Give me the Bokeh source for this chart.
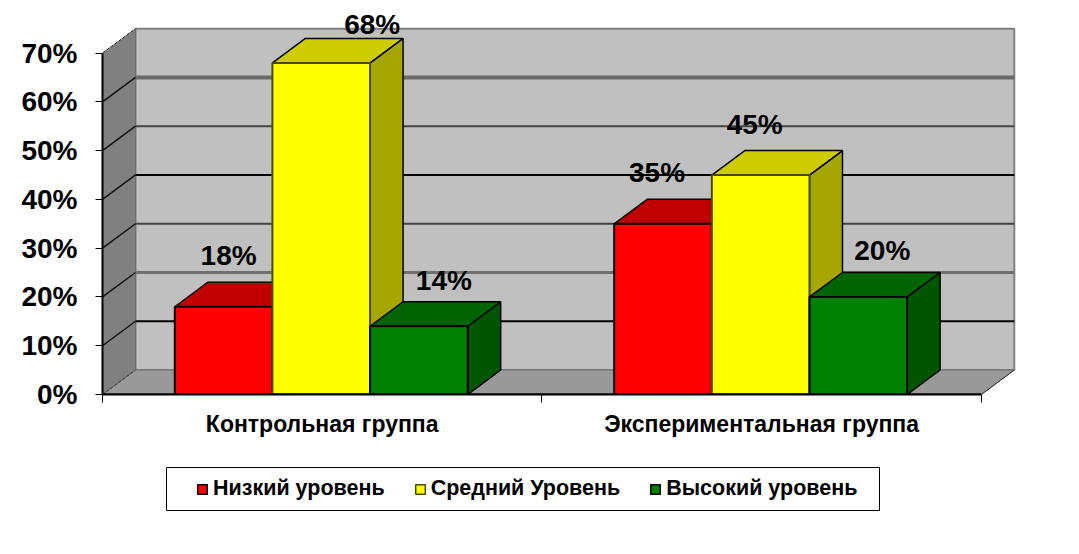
from bokeh.embed import file_html
from bokeh.resources import INLINE
from bokeh.plotting import figure
from bokeh.layouts import column
from bokeh.models import Range1d, FixedTicker, Legend, LegendItem, ColumnDataSource
from bokeh.core.properties import value

groups = ["Контрольная группа", "Экспериментальная группа"]
series = ["Низкий уровень", "Средний Уровень", "Высокий уровень"]
low = [18, 35]
mid = [68, 45]
high = [14, 20]
y_ticks = [0, 10, 20, 30, 40, 50, 60, 70]
labels_low = ["18%", "35%"]
labels_mid = ["68%", "45%"]
labels_high = ["14%", "20%"]

front = ["#FF0000", "#FFFF00", "#008000"]
top = ["#C00000", "#CCCC00", "#006400"]
side = ["#A00000", "#A6A600", "#005500"]
edge = ["#000000", "#4A4A00", "#000000"]

# per-label nudges in px, as placed by hand in the reference
nudge_x = [[5, -6], [51, -6], [25, 24]]
nudge_y = [[-51, -51], [-38, -51], [-46, -46]]

DX = 33 / 439.4
DY = 245 / 48.8
BAR = 2 / 9
GAP = 0.1645

p = figure(width=1071, height=462, output_backend="svg", toolbar_location=None,
           x_range=Range1d(0, 928 / 439.4), y_range=Range1d(0, 386.3 / 4.88),
           min_border_left=102, min_border_right=41, min_border_top=8, min_border_bottom=68,
           outline_line_color=None, background_fill_color="white", border_fill_color="white")
p.grid.visible = False

# axes
ax = p.yaxis[0]
ax.ticker = FixedTicker(ticks=y_ticks)
ax.major_label_overrides = {v: f"{v}%" for v in y_ticks}
ax.major_label_text_font = "Liberation Sans"
ax.major_label_text_font_style = "bold"
ax.major_label_text_font_size = "28px"
ax.major_label_text_color = "black"
ax.major_tick_in = 0
ax.major_tick_out = 7
ax.major_tick_line_width = 1
ax.minor_tick_line_color = None
ax.axis_line_width = 2
ax.axis_line_color = "black"
ax.bounds = (0, 70)
ax.major_label_standoff = 18

bx = p.xaxis[0]
bx.ticker = FixedTicker(ticks=[0.5, 1.5], minor_ticks=[0, 1, 2])
bx.major_label_overrides = {0.5: groups[0], 1.5: groups[1]}
bx.major_label_text_font = "Liberation Sans"
bx.major_label_text_font_style = "bold"
bx.major_label_text_font_size = "23px"
bx.major_label_text_color = "black"
bx.major_tick_line_color = None
bx.major_tick_out = 0
bx.major_tick_in = 0
bx.minor_tick_in = 0
bx.minor_tick_out = 8
bx.minor_tick_line_color = "black"
bx.axis_line_width = 2
bx.axis_line_color = "black"
bx.bounds = (0, 2)
bx.major_label_standoff = 8

# walls
ymax = y_ticks[-1]
p.patch([DX, 2 + DX, 2 + DX, DX], [DY, DY, ymax + DY, ymax + DY],
        fill_color="#C0C0C0", line_color="#808080", line_width=2)
p.patch([0, DX, DX, 0], [0, DY, ymax + DY, ymax],
        fill_color="#808080", line_color="#6E6E6E", line_width=1)
p.patch([0, 2, 2 + DX, DX], [0, 0, DY, DY],
        fill_color="#999999", line_color="#6E6E6E", line_width=1)

# grid lines on the back wall and left wall
grid_color = {10: "#000000", 20: "#707070", 30: "#444444", 40: "#000000", 50: "#444444", 60: "#6A6A6A"}
grid_width = {10: 2, 20: 3, 30: 2, 40: 2, 50: 2, 60: 4}
for v in y_ticks[1:-1]:
    p.line([DX, 2 + DX], [v + DY, v + DY], line_color=grid_color[v], line_width=grid_width[v])
    p.line([0, DX], [v, v + DY], line_color="#111111", line_width=1.5)
p.line([0, DX], [0, DY], line_color="#333333", line_width=1, line_dash="3 2")
p.line([0, DX], [ymax, ymax + DY], line_color="#333333", line_width=1, line_dash="3 2")
p.line([2, 2 + DX], [0, DY], line_color="#333333", line_width=1)

# bars
values = [low, mid, high]
for g in range(len(groups)):
    for s in range(len(series)):
        v = values[s][g]
        x0 = g + GAP + s * BAR
        x1 = x0 + BAR
        p.patch([x1, x1 + DX, x1 + DX, x1], [0, DY, v + DY, v],
                fill_color=side[s], line_color="#000000", line_width=1.5)
        p.patch([x0, x1, x1 + DX, x0 + DX], [v, v, v + DY, v + DY],
                fill_color=top[s], line_color="#000000", line_width=1.5)
        p.quad(left=[x0], right=[x1], bottom=[0], top=[v],
               fill_color=front[s], line_color=edge[s], line_width=2)

# front floor edge above the bars' base
p.line([0, 2], [0, 0], line_color="black", line_width=2)

# data labels
all_labels = [labels_low, labels_mid, labels_high]
for s in range(len(series)):
    src = ColumnDataSource(dict(
        x=[g + GAP + (s + 0.5) * BAR for g in range(len(groups))],
        y=values[s],
        t=all_labels[s],
        dx=nudge_x[s],
        dy=nudge_y[s],
    ))
    p.text(x="x", y="y", text="t", x_offset="dx", y_offset="dy", source=src,
           text_align="center", text_baseline="middle", text_color="black",
           text_font=value("Liberation Sans"), text_font_style="bold", text_font_size="28px")

# legend panel (the column shares the chart's side borders, 102 + 41 px)
lf = figure(width=713 + 143, height=44, output_backend="svg", toolbar_location=None,
            x_axis_type=None, y_axis_type=None,
            x_range=Range1d(0, 1), y_range=Range1d(0, 1),
            min_border=0, margin=(5, 0, 0, 64),
            outline_line_color="black", outline_line_width=1)
lf.grid.visible = False
swatches = [lf.quad(left=[-2], right=[-1], bottom=[-2], top=[-1],
                    fill_color=front[s], line_color=edge[s], line_width=1.5)
            for s in range(len(series))]
legend = Legend(items=[LegendItem(label=series[i], renderers=[swatches[i]]) for i in range(3)],
                orientation="horizontal", location=(30, 10),
                glyph_width=12, glyph_height=12, label_standoff=5, spacing=29,
                padding=0, margin=0, border_line_color=None, background_fill_alpha=0,
                label_text_font="Liberation Sans", label_text_font_style="bold",
                label_text_font_size="21.5px", label_text_color="black")
lf.add_layout(legend, "center")

open("out.html", "w").write(file_html(column(p, lf, spacing=0), INLINE))
